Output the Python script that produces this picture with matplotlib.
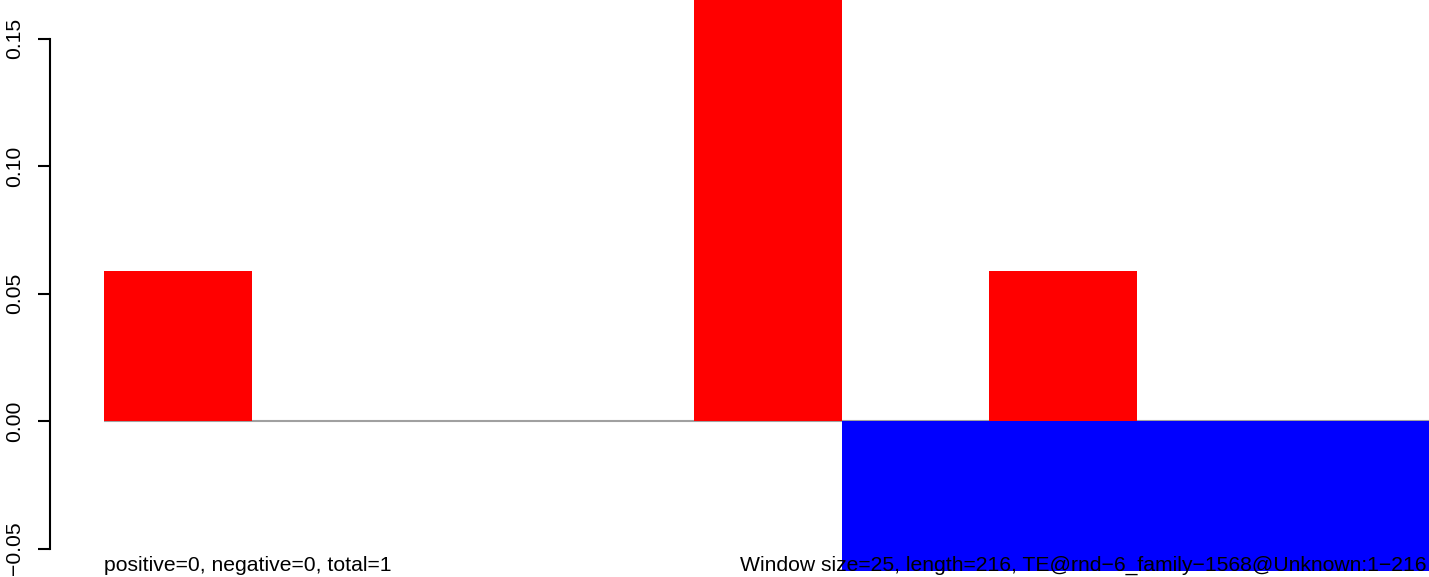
import matplotlib
matplotlib.use("Agg")
import matplotlib.pyplot as plt
import numpy as np

# window values (9 windows of size 25 over length 216)
windows = np.arange(9)
positive = [1/17, 0, 0, 0, 3/17, 0, 1/17, 0, 0]
negative = [0, 0, 0, 0, 0, -1/17, -1/17, -1/17, -1/17]
yticks = [-0.05, 0.00, 0.05, 0.10, 0.15]
ytick_labels = ["\u22120.05", "0.00", "0.05", "0.10", "0.15"]
left_note = "positive=0, negative=0, total=1"
right_note = "Window size=25, length=216, TE@rnd\u22126_family\u22121568@Unknown:1\u2212216"

plt.rcParams['font.family'] = ['Liberation Sans', 'DejaVu Sans']
fs = 15.2

fig = plt.figure(figsize=(14.29, 5.77), dpi=100)
ax = fig.add_axes([0, 0, 1, 1])

bw = 147.5  # pixels per window
ax.set_xlim(-104/bw, (1429-104)/bw)
ax.set_ylim(-156/127.5*0.05, 421/127.5*0.05)

ax.hlines(0, 0, 9, color="#a0a0a0", lw=1.5, zorder=1)
ax.bar(windows, positive, width=1, align='edge', color="#ff0000", lw=0, zorder=2)
ax.bar(windows, negative, width=1, align='edge', color="#0000ff", lw=0, zorder=2)

for s in ['top', 'right', 'bottom']:
    ax.spines[s].set_visible(False)
ax.spines['left'].set_position(('data', (50-104)/bw))
ax.spines['left'].set_bounds(-0.05, 0.15)
ax.spines['left'].set_linewidth(1.5)
ax.set_xticks([])
ax.set_yticks(yticks)
ax.set_yticklabels(ytick_labels, rotation=90, va='center', fontsize=fs)
ax.tick_params(axis='y', length=9, width=1.5, pad=9.5)

ax.text(0, -1/17, left_note, fontsize=fs, va='baseline', ha='left', zorder=3)
ax.text((740-104)/bw, -1/17, right_note, fontsize=fs, va='baseline', ha='left', zorder=3)

fig.savefig("out.png", dpi=100)
